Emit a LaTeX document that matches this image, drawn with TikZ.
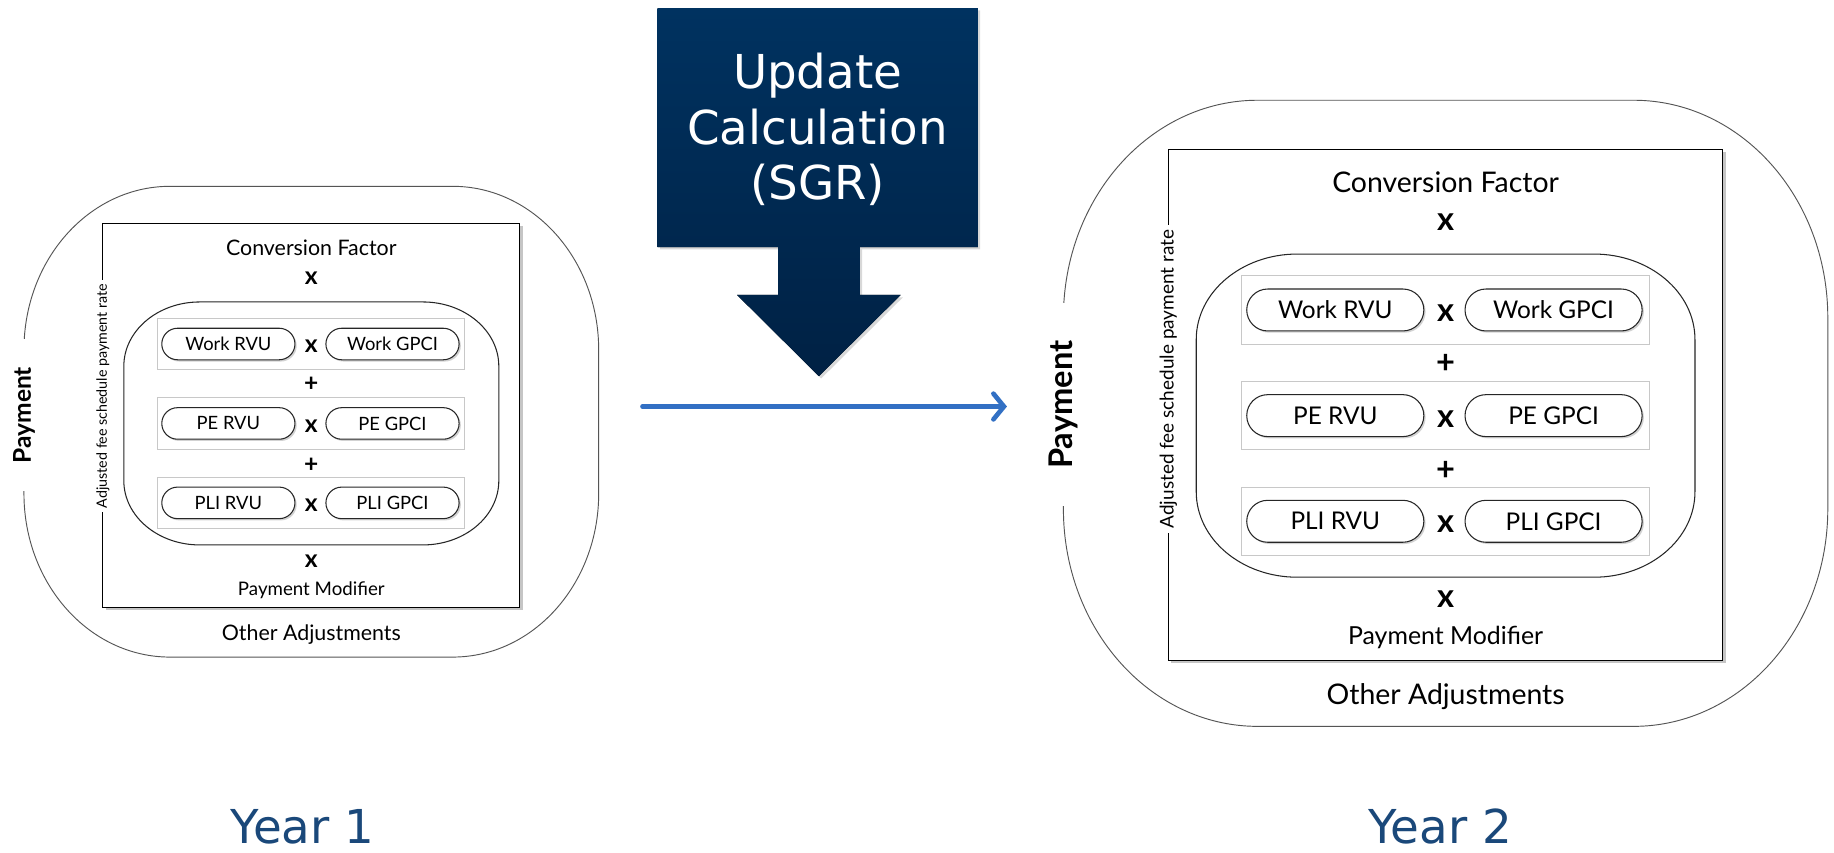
\documentclass[tikz,border=0pt]{standalone}
\usepackage{fontspec}
\setmainfont{Lato}
\newfontfamily\djv{DejaVu Sans}
\usetikzlibrary{shapes.misc,shadows,arrows.meta}
\definecolor{navytop}{RGB}{0,50,96}
\definecolor{navybot}{RGB}{0,33,68}
\definecolor{arrowblue}{RGB}{50,112,196}
\definecolor{yearblue}{RGB}{26,72,122}
\definecolor{outergray}{RGB}{85,85,85}
\definecolor{rowgray}{RGB}{200,200,200}
\tikzset{
  lbl/.style={inner sep=0pt, font=\fontsize{18.3}{20}\selectfont},
  smalllbl/.style={inner sep=0pt, font=\fontsize{16}{18}\selectfont},
  opsign/.style={inner sep=0pt, font=\bfseries\fontsize{21}{22}\selectfont},
  pill/.style={rounded rectangle, draw=black!85, line width=0.9pt, fill=white,
    minimum width=114pt, minimum height=27pt, inner sep=0pt,
    font=\fontsize{15.7}{17}\selectfont,
    drop shadow={shadow xshift=1.5pt, shadow yshift=-1.5pt, opacity=0.35}},
  rowbox/.style={draw=rowgray, line width=0.8pt, minimum width=263pt,
    minimum height=44pt, inner sep=0pt},
  sqbox/.style={draw=black, line width=0.9pt, fill=white, minimum width=357pt,
    minimum height=329pt, inner sep=0pt,
    drop shadow={shadow xshift=2.5pt, shadow yshift=-2.5pt, opacity=0.45}},
  paylbl/.style={rotate=90, fill=white, inner xsep=24pt, inner ysep=1pt,
    font=\bfseries\fontsize{21}{22}\selectfont},
  adjlbl/.style={rotate=90, fill=white, inner xsep=3pt, inner ysep=1pt,
    font=\fontsize{12.2}{13}\selectfont},
  yearlbl/.style={anchor=base, text=yearblue, font=\djv\fontsize{40}{42}\selectfont},
}
% elliptical rounded rectangle: x1 y1 x2 y2 rx ry
\newcommand\ellrect[7][]{%
  \draw[#1] ({#2+#6},#5) -- ({#4-#6},#5)
    arc[start angle=90, end angle=0, x radius=#6 pt, y radius=#7 pt]
    -- (#4,{#3+#7})
    arc[start angle=0, end angle=-90, x radius=#6 pt, y radius=#7 pt]
    -- ({#2+#6},#3)
    arc[start angle=-90, end angle=-180, x radius=#6 pt, y radius=#7 pt]
    -- (#2,{#5-#7})
    arc[start angle=180, end angle=90, x radius=#6 pt, y radius=#7 pt]
    -- cycle;}
\newcommand\yearstruct[1]{%
  \ellrect[draw=outergray, line width=0.8pt]{-246}{-207}{246}{196}{125}{140}
  \node[sqbox] (#1sq) at (0,0) {};
  \node[paylbl] (#1pay) at (-246,0) {Payment};
  \node[adjlbl] (#1adj) at (-178.5,16.5) {Adjusted fee schedule payment rate};
  \node[lbl] (#1cf) at (0,143.5) {Conversion Factor};
  \node[opsign] (#1x1) at (0,117.5) {x};
  \ellrect[draw=black!85, line width=0.9pt]{-160.5}{-111}{160.5}{97}{65}{55}
  \node[rowbox] (#1rowa) at (0,61) {};
  \node[rowbox] (#1rowb) at (0,-7) {};
  \node[rowbox] (#1rowc) at (0,-75) {};
  \node[pill] (#1wr) at (-71,61) {Work RVU};
  \node[pill] (#1wg) at (69.5,61) {Work GPCI};
  \node[pill] (#1pr) at (-71,-7) {PE RVU};
  \node[pill] (#1pg) at (69.5,-7) {PE GPCI};
  \node[pill] (#1lr) at (-71,-75) {PLI RVU};
  \node[pill] (#1lg) at (69.5,-75) {PLI GPCI};
  \node[opsign] (#1xa) at (0,59) {x};
  \node[opsign] (#1xb) at (0,-9) {x};
  \node[opsign] (#1xc) at (0,-77) {x};
  \node[opsign] (#1pa) at (0,26.5) {+};
  \node[opsign] (#1pb) at (0,-42.5) {+};
  \node[opsign] (#1x2) at (0,-125) {x};
  \node[smalllbl] (#1pm) at (0,-150) {Payment Modifier};
  \node[lbl] (#1oa) at (0,-188) {Other Adjustments};
}
\begin{document}
\begin{tikzpicture}[x=1pt,y=1pt]
\useasboundingbox[fill=white] (0,0) rectangle (1570,730);
% big update arrow
\fill[drop shadow={shadow xshift=2pt, shadow yshift=-2pt, opacity=0.3},
      top color=navytop, bottom color=navybot]
  (563,723) -- (837,723) -- (837,518.5) -- (736,518.5) -- (736,477.5)
  -- (771,477.5) -- (701,408) -- (631,477.5) -- (666,477.5) -- (666,518.5)
  -- (563,518.5) -- cycle;
\node[text=white, align=center, font=\djv\fontsize{40}{47.5}\selectfont]
  (upd) at (700,619) {Update\\Calculation\\(SGR)};
% blue arrow
\coordinate (arS) at (550,382);
\coordinate (arE) at (862,382);
\draw[arrowblue, line width=4pt, line cap=round,
      -{Straight Barb[length=9pt, width=22pt, line cap=round]}] (arS) -- (arE);
% year 1
\begin{scope}[shift={(266.5,374.5)}]
  \yearstruct{L}
\end{scope}
% year 2
\begin{scope}[shift={(1237.5,383.5)}, scale=1.33, transform shape]
  \yearstruct{R}
\end{scope}
\node[yearlbl] (y1) at (259,8) {Year 1};
\node[yearlbl] (y2) at (1233,8) {Year 2};
\end{tikzpicture}
\end{document}
